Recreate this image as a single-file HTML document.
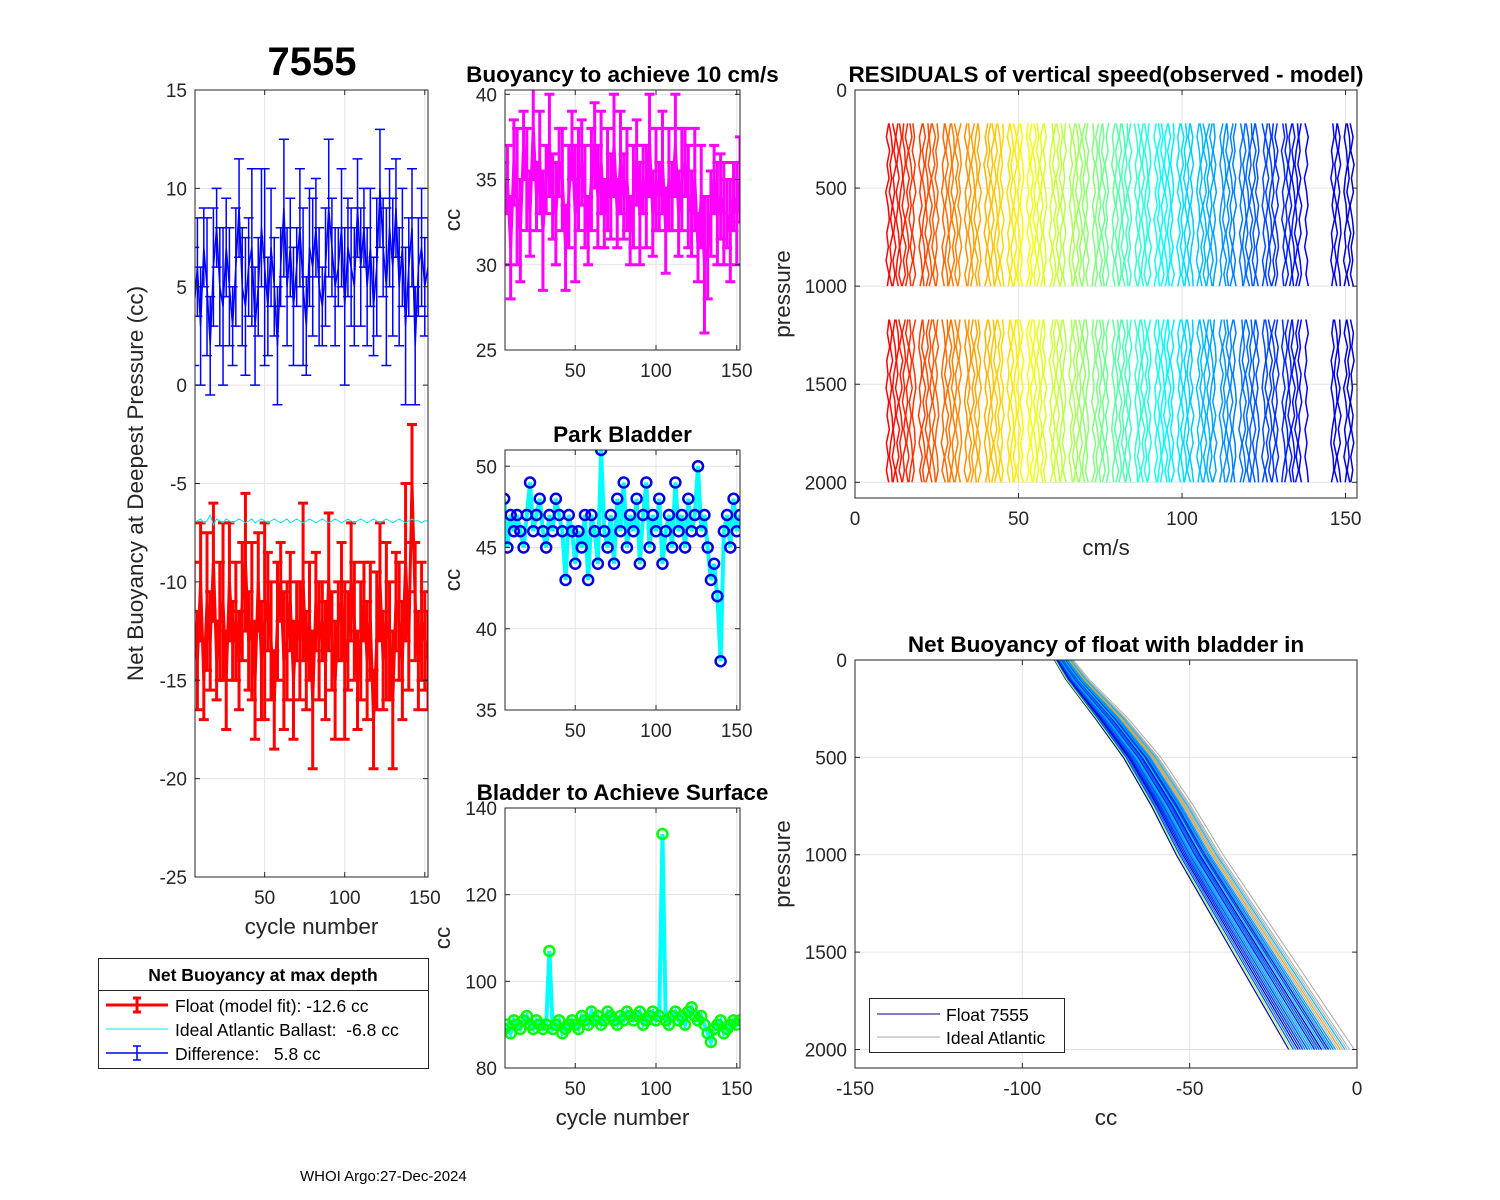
<!DOCTYPE html>
<html><head><meta charset="utf-8"><style>
body{margin:0;background:#fff}
svg{display:block;font-family:"Liberation Sans",Arial,sans-serif}
</style></head><body>
<svg id="fig" width="1500" height="1200" viewBox="0 0 1500 1200" xmlns="http://www.w3.org/2000/svg">
<rect width="1500" height="1200" fill="#fff"/>
</svg>
<script>
// ---------- data ----------
const cycles = [6,8,10,12,14,16,18,20,22,24,26,28,30,32,34,36,38,40,42,44,46,48,50,52,54,56,58,60,62,64,66,68,70,72,74,76,78,80,82,84,86,88,90,92,94,96,98,100,102,104,106,108,110,112,114,116,118,120,122,124,126,128,130,132,134,136,138,140,142,144,146,148,150,152];
const floatFit = [-12,-14,-10,-15,-11,-13,-9,-14,-12,-11,-15,-10,-13,-12,-14,-11,-9,-13,-12,-15,-10,-14,-12,-11,-13,-16,-12,-10,-14,-13,-11,-15,-12,-13,-10,-14,-12,-16,-11,-13,-12,-14,-10,-13,-15,-12,-11,-14,-13,-10,-12,-15,-13,-11,-14,-12,-17,-13,-10,-14,-12,-13,-16,-11,-12,-14,-9,-13,-5,-11,-14,-12,-13,-14];
const floatErr = [3,2.5,3,2,3.5,2.5,3,2,3,4,2.5,3,2,3,2.5,3,3.5,2.5,4,3,2.5,3,5,2.5,3,2.5,3,2,3.5,3,2.5,3,2,3,4,2.5,3,3.5,2.5,3,2,3,3.5,2.5,3,2,3,4,2.5,3,3,2.5,3,2,3,3,2.5,3.5,3,2.5,4,3,3.5,2.5,3,3,4,2.5,3,3,2.5,3,2.5,2.5];
const difference = [4,6,3,7,5,2,6,8,5,4,7,5,3,6,9,5,4,6,7,3,5,8,6,4,7,5,2,6,9,5,7,4,6,8,5,3,7,6,8,5,4,6,9,7,5,6,8,4,7,6,5,9,6,8,5,7,4,6,10,7,5,8,6,9,5,7,3,6,8,2,6,7,5,6];
const ideal = [-7,-6.9,-6.8,-7,-6.9,-6.6,-7.1,-6.8,-6.9,-7,-6.8,-6.9,-7,-6.9,-6.8,-6.9,-7,-6.9,-6.8,-7,-6.9,-6.8,-6.9,-7,-6.9,-6.8,-6.9,-7,-6.9,-6.8,-7,-6.9,-6.8,-6.9,-7,-6.9,-6.8,-6.9,-7,-6.9,-6.8,-6.9,-7,-6.9,-6.8,-6.9,-7,-6.9,-6.8,-6.9,-7,-6.9,-6.8,-6.9,-7,-6.9,-6.8,-6.9,-7,-6.9,-6.8,-6.9,-7,-6.9,-6.8,-6.9,-7,-6.9,-6.8,-6.9,-6.9,-7,-6.9,-6.9];
const buoy10 = [33,35,31,36,34,32,37,35,33,38,34,36,32,35,37,34,33,36,35,31,34,37,33,35,36,34,32,35,37,34,36,33,35,34,37,33,36,34,35,32,34,36,33,35,34,37,33,35,34,36,32,35,34,37,33,35,36,34,33,35,31,34,30,31,33,35,33,34,33,33,32,34,33,35];
const buoyErr = [3,2,3,2.5,4,3,2,3,2.5,3,2,3,3.5,2,3,2.5,3,2,3,2.5,3,2,4,3,2.5,3,2,3,2.5,3,3,2,3,2.5,3,2,3,2.5,3,2,3,2.5,3,2,3,3,2.5,3,2,3,2.5,3,2,3,2.5,3,2,3,2.5,3,2,3,4,3,2.5,2,3,2.5,3,2,3,2,3,2.5];
const parkBladder = [48,45,47,46,47,46,45,47,49,46,47,48,46,45,47,46,48,47,46,43,47,46,44,46,45,47,43,47,46,44,51,46,45,47,44,48,46,49,45,47,46,48,44,47,49,45,47,46,48,44,46,47,45,49,46,47,45,48,46,47,50,46,47,45,43,44,42,38,46,47,45,48,46,47];
const surfaceBladder = [89,90,88,91,90,89,91,92,90,89,91,90,89,90,107,89,90,91,88,89,90,91,90,89,92,91,90,93,91,92,90,91,93,92,91,90,92,91,93,92,91,92,93,90,91,92,93,91,92,134,91,90,92,93,91,92,90,93,94,92,91,92,90,88,86,89,90,91,88,89,90,91,90,91];
const resCycles = [10,11,12,13,14,15,16,17,18,20,21,22,23,24,25,27,28,29,30,31,32,34,35,36,37,38,40,41,42,43,44,45,47,48,49,50,51,53,54,55,56,57,58,60,61,62,63,64,66,67,68,69,70,71,73,74,75,76,77,79,80,81,82,83,84,86,87,88,89,90,92,93,94,95,96,97,99,100,101,102,103,105,106,107,108,109,110,112,113,114,115,116,118,119,120,121,122,123,125,126,127,128,129,131,132,133,134,135,136,138,146,147,148,150,151,152];
const resPressureUpper = [170,240,310,380,450,520,590,660,730,800,870,940,1000];
const resPressureLower = [1170,1240,1310,1380,1450,1520,1590,1660,1730,1800,1870,1940,2000];
const resWiggle = [0.3,-0.4,0.6,-0.2,0.4,-0.6,0.1,0.5,-0.3,0.2,-0.5,0.4,-0.1,0.6,-0.3,0.1,-0.5,0.3,-0.2,0.5,-0.4,0.2,-0.4,0.3,0.6,-0.1,-0.5,0.2,0.4,-0.3,0.1,-0.6];
const profPressure = [0,100,200,300,500,750,1000,1250,1500,1750,2000];
const profCC = [-88,-84,-79,-74,-65,-56,-48,-39,-30,-21,-12];
const floatOffsets = [-6,-5,-4.5,-4,-3.5,-3,-2.5,-2,-1.5,-1,-0.5,0,0.5,1,1.5,2,2.5,3,3.5,4,-3,-2,-1,0,1,2,-2.5,-1.5,-0.5,0.5,1.5,2.5,-4,-3,0,3,5,-5.5,6];
const idealOffsets = [2,3,4,5,6,7,3.5,4.5,5.5,6.5,2.5,8];

// ---------- helpers ----------
const svg = document.getElementById('fig');
const NS = 'http://www.w3.org/2000/svg';
function el(tag, attrs, parent){const e=document.createElementNS(NS,tag);for(const k in attrs)e.setAttribute(k,attrs[k]);(parent||svg).appendChild(e);return e;}
function jet(t){const r=Math.min(1,Math.max(0,1.5-Math.abs(4*t-3))),g=Math.min(1,Math.max(0,1.5-Math.abs(4*t-2))),b=Math.min(1,Math.max(0,1.5-Math.abs(4*t-1)));return `rgb(${Math.round(r*255)},${Math.round(g*255)},${Math.round(b*255)})`;}
let clipN=0;
function axes(o){
  const sx=v=>o.x0+(v-o.xd[0])/(o.xd[1]-o.xd[0])*(o.x1-o.x0);
  const sy=o.rev? v=>o.y0+(v-o.yd[0])/(o.yd[1]-o.yd[0])*(o.y1-o.y0) : v=>o.y1-(v-o.yd[0])/(o.yd[1]-o.yd[0])*(o.y1-o.y0);
  const g=el('g',{});
  
  
  const grid=el('g',{stroke:'#e3e3e3','stroke-width':1},g);
  o.xt.forEach(t=>el('line',{x1:sx(t),x2:sx(t),y1:o.y0,y2:o.y1},grid));
  o.yt.forEach(t=>el('line',{x1:o.x0,x2:o.x1,y1:sy(t),y2:sy(t)},grid));
  const id='c'+(clipN++);
  const cp=el('clipPath',{id},g);el('rect',{x:o.x0,y:o.y0,width:o.x1-o.x0,height:o.y1-o.y0},cp);
  const plot=el('g',{'clip-path':`url(#${id})`},g);
  const fr=el('g',{},g);
  
  
  el('rect',{x:o.x0,y:o.y0,width:o.x1-o.x0,height:o.y1-o.y0,fill:'none',stroke:'#262626','stroke-width':1},fr);
  o.xt.forEach(t=>{el('line',{x1:sx(t),x2:sx(t),y1:o.y1,y2:o.y1-5,stroke:'#262626'},fr);el('line',{x1:sx(t),x2:sx(t),y1:o.y0,y2:o.y0+5,stroke:'#262626'},fr);
    const tx=el('text',{x:sx(t),y:o.y1+27,'text-anchor':'middle','font-size':19,fill:'#262626'},fr);tx.textContent=t;
    
    });
  o.yt.forEach(t=>{el('line',{x1:o.x0,x2:o.x0+5,y1:sy(t),y2:sy(t),stroke:'#262626'},fr);el('line',{x1:o.x1,x2:o.x1-5,y1:sy(t),y2:sy(t),stroke:'#262626'},fr);
    const tx=el('text',{x:o.x0-8,y:sy(t)+7,'text-anchor':'end','font-size':19,fill:'#262626'},fr);tx.textContent=t;
    
    });
  if(o.title){const t=el('text',{x:(o.x0+o.x1)/2,y:o.y0-8,'text-anchor':'middle','font-size':22.5,'font-weight':'bold',fill:'#000'},g);t.textContent=o.title;
    
    }
  if(o.xl){const t=el('text',{x:(o.x0+o.x1)/2,y:o.y1+57,'text-anchor':'middle','font-size':22.5,fill:'#262626'},g);t.textContent=o.xl;
    
    }
  if(o.yl){const cx=o.ylx,cy=(o.y0+o.y1)/2;const t=el('text',{x:cx,y:cy,'text-anchor':'middle','font-size':22.5,fill:'#262626',transform:`rotate(-90 ${cx} ${cy})`},g);t.textContent=o.yl;
    
    }
  return {sx,sy,plot};
}
function errorbar(ax,xs,ys,es,color,w,name){
  const g=el('g',{stroke:color,'stroke-width':w,fill:'none'},ax.plot);
  
  
  el('polyline',{points:xs.map((x,i)=>ax.sx(x)+','+ax.sy(ys[i])).join(' ')},g);
  xs.forEach((x,i)=>{const X=ax.sx(x),a=ax.sy(ys[i]-es[i]),b=ax.sy(ys[i]+es[i]);
    const bar=el('path',{d:`M${X},${a}V${b}M${X-5},${a}H${X+5}M${X-5},${b}H${X+5}`},g);
    
    });
}
function lineMarkers(ax,xs,ys,lc,mc,name){
  const g=el('g',{},ax.plot);
  
  
  el('polyline',{points:xs.map((x,i)=>ax.sx(x)+','+ax.sy(ys[i])).join(' '),fill:'none',stroke:lc,'stroke-width':4},g);
  xs.forEach((x,i)=>{const c=el('circle',{cx:ax.sx(x),cy:ax.sy(ys[i]),r:5,fill:'none',stroke:mc,'stroke-width':2.5},g);
    
    });
}
function txt(x,y,s,size,attrs,name){const t=el('text',Object.assign({x,y,'font-size':size,fill:'#000'},attrs||{}));t.textContent=s;
  
  return t;}

// ---------- panel 1 ----------
const a1=axes({name:'net-buoyancy-axes',x0:195,x1:428,y0:90,y1:877,xd:[6.5,152],yd:[-25,15],xt:[50,100,150],yt:[-25,-20,-15,-10,-5,0,5,10,15],xl:'cycle number',yl:'Net Buoyancy at Deepest Pressure (cc)',ylx:143});
errorbar(a1,cycles,floatFit,floatErr,'#ff0000',3,'float-fit-series');
const idl=el('polyline',{points:cycles.map((c,i)=>a1.sx(c)+','+a1.sy(ideal[i])).join(' '),fill:'none',stroke:'#00e5e5','stroke-width':1},a1.plot);


errorbar(a1,cycles,difference,floatErr,'#0000ff',1.5,'difference-series');
txt(312,75,'7555',40,{'text-anchor':'middle','font-weight':'bold'},'float-id-title');

// legend 1
const lg=el('g',{});


el('rect',{x:98.5,y:958.5,width:330,height:110,fill:'#fff',stroke:'#262626'},lg);
el('line',{x1:98.5,x2:428.5,y1:990.5,y2:990.5,stroke:'#262626'},lg);
txt(263,981,'Net Buoyancy at max depth',17.5,{'text-anchor':'middle','font-weight':'bold'},'legend-title');
el('path',{d:'M106,1005H168M137,998V1012M133,998H141M133,1012H141',stroke:'#ff0000','stroke-width':3,fill:'none'},lg);
el('line',{x1:106,x2:168,y1:1029,y2:1029,stroke:'#00e5e5','stroke-width':1},lg);
el('path',{d:'M106,1053H168M137,1046V1060M133,1046H141M133,1060H141',stroke:'#0000ff','stroke-width':1.5,fill:'none'},lg);
txt(175,1012,'Float (model fit): -12.6 cc',17.5,{},'legend-entry-float');
txt(175,1036,'Ideal Atlantic Ballast:\u00a0 -6.8 cc',17.5,{},'legend-entry-ideal');
txt(175,1060,'Difference:\u00a0\u00a0 5.8 cc',17.5,{},'legend-entry-difference');

// ---------- panel 2 ----------
const a2=axes({name:'buoyancy-10cms-axes',x0:505,x1:740,y0:90,y1:350,xd:[6.5,152],yd:[25,40.25],xt:[50,100,150],yt:[25,30,35,40],yl:'cc',ylx:460,title:'Buoyancy to achieve 10 cm/s'});
errorbar(a2,cycles,buoy10,buoyErr,'#ff00ff',3,'buoyancy-series');
// ---------- panel 3 ----------
const a3=axes({name:'park-bladder-axes',x0:505,x1:740,y0:450,y1:710,xd:[6.5,152],yd:[35,51],xt:[50,100,150],yt:[35,40,45,50],yl:'cc',ylx:460,title:'Park Bladder'});
lineMarkers(a3,cycles,parkBladder,'#00ffff','#0000e6','park-bladder-series');
// ---------- panel 4 ----------
const a4=axes({name:'surface-bladder-axes',x0:505,x1:740,y0:808,y1:1068,xd:[6.5,152],yd:[80,140],xt:[50,100,150],yt:[80,100,120,140],yl:'cc',ylx:450,xl:'cycle number',title:'Bladder to Achieve Surface'});
lineMarkers(a4,cycles,surfaceBladder,'#00ffff','#00ff00','surface-bladder-series');

// ---------- panel 5 residuals ----------
const a5=axes({name:'residuals-axes',x0:855,x1:1357,y0:90,y1:498,xd:[0,153.5],yd:[0,2080],rev:true,xt:[0,50,100,150],yt:[0,500,1000,1500,2000],xl:'cm/s',yl:'pressure',ylx:790,title:'RESIDUALS of vertical speed(observed - model)'});
resCycles.forEach((c,i)=>{
  const col=jet(0.88-0.8*i/(resCycles.length-1));
  [resPressureUpper,resPressureLower].forEach((P,s)=>{
    const pts=P.map((p,k)=>a5.sx(c+resWiggle[(k+i*5+s*11)%resWiggle.length])+','+a5.sy(p)).join(' ');
    const pl=el('polyline',{points:pts,fill:'none',stroke:col,'stroke-width':1.5},a5.plot);
    
    
  });
});

// ---------- panel 6 net buoyancy profiles ----------
const a6=axes({name:'net-buoyancy-profile-axes',x0:855,x1:1357,y0:660,y1:1068,xd:[-150,0],yd:[0,2095],rev:true,xt:[-150,-100,-50,0],yt:[0,500,1000,1500,2000],xl:'cc',yl:'pressure',ylx:790,title:'Net Buoyancy of float with bladder in'});
idealOffsets.forEach(off=>{
  const pl=el('polyline',{points:profPressure.map((p,k)=>a6.sx(profCC[k]+off*(0.4+k/10))+','+a6.sy(p)).join(' '),fill:'none',stroke:'#aaaaaa','stroke-width':1},a6.plot);
  
  
});
const profColors=['#0000c8','#0040ff','#0070ff','#00a0ff','#0020e0','#0050f0','#00c0ff','#0030d0'];
floatOffsets.forEach((off,i)=>{
  const col=i===36?'#ffa000':(i===37?'#a0ff30':profColors[i%profColors.length]);
  const pl=el('polyline',{points:profPressure.map((p,k)=>a6.sx(profCC[k]+off*(0.4+k/10))+','+a6.sy(p)).join(' '),fill:'none',stroke:col,'stroke-width':1.2},a6.plot);
  
  
});
const lg2=el('g',{});


el('rect',{x:869.5,y:998.5,width:195,height:54,fill:'#fff',stroke:'#262626'},lg2);
el('line',{x1:877,x2:940,y1:1014,y2:1014,stroke:'#000080'},lg2);
el('line',{x1:877,x2:940,y1:1037,y2:1037,stroke:'#aaaaaa'},lg2);
txt(946,1021,'Float 7555',17.5,{},'legend-entry-float-7555');
txt(946,1044,'Ideal Atlantic',17.5,{},'legend-entry-ideal-atlantic');

txt(300,1181,'WHOI Argo:27-Dec-2024',15,{},'footer-date');
</script>
</body></html>
